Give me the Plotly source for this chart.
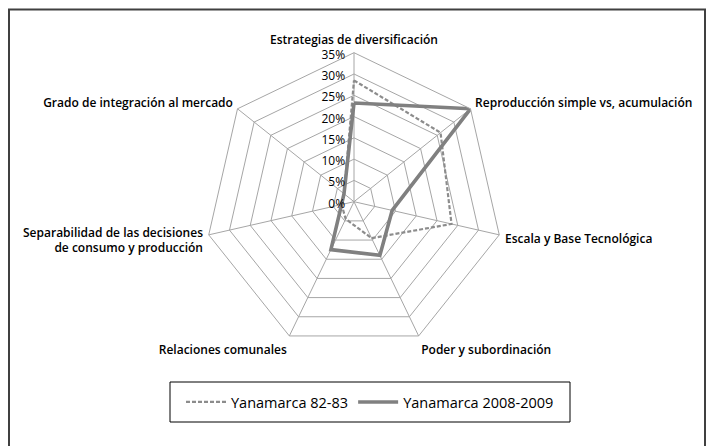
import plotly.graph_objects as go

categories = [
    "Estrategias de diversificación",
    "Reproducción simple vs, acumulación",
    "Escala y Base Tecnológica",
    "Poder y subordinación",
    "Relaciones comunales",
    "Separabilidad de las decisiones<br>de consumo y producción",
    "Grado de integración al mercado",
]
series_82_83 = [0.285, 0.26, 0.235, 0.095, 0.045, 0.03, 0.03]
series_2008_2009 = [0.232, 0.35, 0.092, 0.14, 0.125, 0.03, 0.03]
series_names = ["Yanamarca 82-83", "Yanamarca 2008-2009"]
radial_ticks = [0, 0.05, 0.10, 0.15, 0.20, 0.25, 0.30, 0.35]

W, H = 713, 446
FONT = "Open Sans"
GRID = "#a6a6a6"

def closed(v):
    return list(v) + [v[0]]

fig = go.Figure()
fig.add_trace(go.Scatterpolar(
    r=closed(series_82_83), theta=closed(categories), mode="lines",
    name=series_names[0],
    line=dict(color="#8c8c8c", width=2.2, dash="4px,2px"),
))
fig.add_trace(go.Scatterpolar(
    r=closed(series_2008_2009), theta=closed(categories), mode="lines",
    name=series_names[1],
    line=dict(color="#808080", width=3.6),
))

cx, cy, R = 354, 201.7, 149
fig.update_layout(
    width=W, height=H,
    margin=dict(l=0, r=0, t=0, b=0),
    paper_bgcolor="white",
    font=dict(family=FONT, size=12, color="#000000"),
    polar=dict(
        domain=dict(x=[(cx - R) / W, (cx + R) / W], y=[1 - (cy + R) / H, 1 - (cy - R) / H]),
        gridshape="linear",
        bgcolor="white",
        angularaxis=dict(
            direction="clockwise", rotation=90,
            categoryorder="array", categoryarray=categories,
            showline=True, linecolor=GRID, linewidth=1,
            gridcolor=GRID, gridwidth=1,
            ticks="outside", ticklen=3, tickcolor="rgba(0,0,0,0)",
            tickfont=dict(family=FONT, size=12, color="#000000", weight=600),
        ),
        radialaxis=dict(
            range=[0, 0.35], tickvals=radial_ticks, tickformat=".0%",
            angle=90, side="counterclockwise", showline=False,
            gridcolor=GRID, gridwidth=1, ticks="",
            tickfont=dict(family=FONT, size=12, color="#000000"),
        ),
    ),
    showlegend=True,
    legend=dict(
        orientation="h", x=370 / W, xanchor="center", y=1 - 402 / H, yanchor="middle",
        borderwidth=0, bgcolor="rgba(0,0,0,0)",
        font=dict(family=FONT, size=14.5, color="#000000"),
        itemwidth=40,
    ),
    shapes=[
        dict(
            type="rect", xref="paper", yref="paper",
            x0=9 / W, x1=705 / W, y0=-0.2, y1=1 - 9.5 / H,
            line=dict(color="#404040", width=2), fillcolor="rgba(0,0,0,0)", layer="below",
        ),
        dict(
            type="rect", xref="paper", yref="paper",
            x0=170 / W, x1=570 / W, y0=1 - 422 / H, y1=1 - 382 / H,
            line=dict(color="#000000", width=1), fillcolor="white", layer="below",
        ),
    ],
)

fig.write_html(
    "out.html",
    config={"displayModeBar": False},
    post_script="document.body.style.margin='0px';",
)
